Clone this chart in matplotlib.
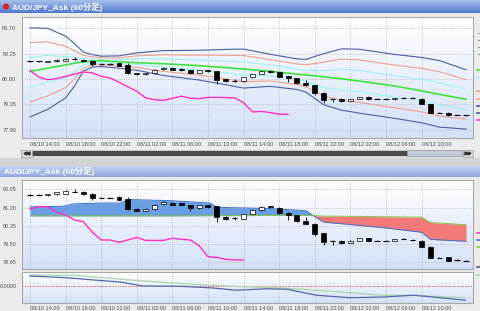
import numpy as np
import matplotlib.pyplot as plt
from matplotlib.patches import Rectangle, Circle
from matplotlib.colors import LinearSegmentedColormap

plt.rcParams['font.family'] = ['Liberation Sans', 'DejaVu Sans', 'Noto Sans CJK JP']

# 60 minute bars, AUD/JPY ask, starting 08/10 14:00
opens = [81.80, 81.80, 81.78, 81.81, 81.85, 81.95, 81.90, 81.85, 81.66, 81.66,
         81.69, 81.58, 81.14, 81.06, 81.12, 81.36, 81.42, 81.39, 81.30, 81.17,
         81.30, 81.25, 80.78, 80.70, 80.67, 80.90, 81.08, 81.25, 81.19, 80.95,
         80.83, 80.55, 80.44, 80.01, 79.66, 79.66, 79.55, 79.66, 79.77, 79.66,
         79.66, 79.64, 79.74, 79.71, 79.66, 79.38, 78.85, 78.88, 78.75, 78.72]
highs = [81.85, 81.85, 81.85, 81.93, 82.00, 82.04, 81.95, 81.88, 81.71, 81.71,
         81.74, 81.69, 81.17, 81.16, 81.35, 81.48, 81.46, 81.42, 81.33, 81.32,
         81.33, 81.28, 80.80, 80.78, 80.92, 81.10, 81.26, 81.29, 81.21, 80.97,
         80.85, 80.75, 80.47, 80.03, 79.70, 79.69, 79.68, 79.79, 79.80, 79.71,
         79.71, 79.74, 79.79, 79.75, 79.69, 79.40, 78.92, 78.90, 78.80, 78.76]
lows = [81.75, 81.76, 81.75, 81.79, 81.83, 81.90, 81.78, 81.54, 81.62, 81.62,
        81.55, 81.10, 81.04, 81.03, 81.10, 81.34, 81.31, 81.28, 81.06, 81.15,
        81.20, 80.51, 80.64, 80.64, 80.65, 80.88, 81.06, 81.17, 80.92, 80.64,
        80.53, 80.42, 79.87, 79.44, 79.47, 79.50, 79.53, 79.64, 79.62, 79.64,
        79.64, 79.62, 79.72, 79.69, 79.35, 78.83, 78.83, 78.70, 78.73, 78.70]
closes = [81.80, 81.80, 81.82, 81.90, 81.96, 81.93, 81.81, 81.65, 81.66, 81.66,
          81.57, 81.12, 81.06, 81.13, 81.33, 81.45, 81.33, 81.30, 81.17, 81.30,
          81.24, 80.75, 80.67, 80.70, 80.90, 81.08, 81.24, 81.22, 80.94, 80.83,
          80.55, 80.44, 79.98, 79.59, 79.66, 79.53, 79.66, 79.77, 79.64, 79.66,
          79.66, 79.72, 79.74, 79.71, 79.38, 78.85, 78.85, 78.72, 78.75, 78.72]

tick_pos = [0, 4, 8, 12, 16, 20, 24, 28, 32, 36, 40, 44]
tick_labels = ["08/10 14:00", "08/10 18:00", "08/10 22:00", "08/11 02:00",
               "08/11 06:00", "08/11 10:00", "08/11 14:00", "08/11 18:00",
               "08/11 22:00", "08/12 02:00", "08/12 06:00", "08/12 10:00"]

# bollinger outer lines (+-3 sigma) and the green average, upper window
bb_t = [0, 2, 4, 5, 6, 7, 8, 10, 12, 15, 19, 22, 24, 27, 30, 31, 33, 35, 37, 41, 44, 46, 49]
bb_up3 = [83.72, 83.69, 83.25, 82.82, 82.33, 82.19, 82.10, 82.12, 82.29, 82.42, 82.44, 82.49,
          82.51, 82.21, 81.95, 81.92, 82.25, 82.52, 82.50, 82.20, 82.03, 81.85, 81.33]
bb_lo3 = [78.63, 79.07, 79.72, 80.40, 81.25, 81.48, 81.51, 81.42, 81.30, 81.00, 80.74, 80.47,
          80.28, 80.38, 80.20, 80.05, 79.33, 79.02, 78.85, 78.55, 78.30, 78.05, 77.94]
ma = [81.23, 81.42, 81.60, 81.70, 81.78, 81.83, 81.84, 81.78, 81.73, 81.67, 81.56, 81.45,
      81.37, 81.24, 81.08, 81.03, 80.93, 80.81, 80.68, 80.40, 80.12, 79.92, 79.64]

# pink line in the upper window
lag_top = [81.29, 80.90, 80.76, 80.82, 80.95, 81.08, 81.20, 81.15, 80.95, 80.86,
           80.62, 80.35, 80.10, 79.72, 79.62, 79.58, 79.70, 79.82, 79.70, 79.68,
           79.75, 79.75, 79.74, 79.72, 79.45, 78.92, 78.95, 78.88, 78.79, 78.78]

# ichimoku cloud, lower window
cloud_t = [0, 3.8, 4.9, 8.2, 10.1, 11.2, 15.7, 20.2, 21, 27, 31, 32, 33, 36, 40, 44, 45, 49]
span_a = [81.23, 81.26, 81.37, 81.41, 81.41, 81.57, 81.52, 81.41, 81.21, 81.15, 81.05, 80.78,
          80.52, 80.41, 80.25, 80.05, 79.72, 79.63]
span_b = [80.81, 80.81, 80.81, 80.81, 80.81, 80.81, 80.81, 80.82, 80.82, 80.83, 80.83, 80.82,
          80.80, 80.79, 80.77, 80.75, 80.50, 80.40]
lag_bot = [81.13, 81.24, 81.23, 80.98, 80.85, 80.62, 80.54, 80.05, 79.69, 79.69,
           79.58, 79.69, 79.81, 79.67, 79.67, 79.67, 79.77, 79.72, 79.69, 79.43,
           78.91, 78.88, 78.79, 78.76, 78.76]

# oscillator window
osc1_t = [0, 4.1, 7.9, 10.1, 12.7, 16.9, 20.6, 23.2, 26.6, 28.9, 32.2, 36, 39.7, 43.1, 45.3, 48.9]
osc1 = [0.20, 0.165, 0.11, 0.08, 0.0, -0.005, -0.04, -0.085, -0.055, -0.065, -0.185, -0.235,
        -0.22, -0.185, -0.22, -0.285]
osc2_t = [0, 4.9, 11.6, 19.1, 22.8, 28.5, 34, 39.7, 43.1, 48.9]
osc2 = [0.215, 0.215, 0.115, 0.025, -0.007, -0.04, -0.107, -0.187, -0.187, -0.235]

W, H = 480, 311
XL = (-0.9, 49.78)


def px(x0, y0, x1, y1):
    return [x0 / W, 1 - y1 / H, (x1 - x0) / W, (y1 - y0) / H]


def vgrad(ax, extent, c_top, c_bot, **kw):
    cm = LinearSegmentedColormap.from_list('g', [c_top, c_bot])
    ax.imshow(np.linspace(0, 1, 60).reshape(-1, 1), cmap=cm, extent=extent,
              aspect='auto', interpolation='bilinear', **kw)


def panel(rect):
    ax = fig.add_axes(px(*rect))
    vgrad(ax, (0, 1, 0, 1), '#ffffff', '#d3e0f6', transform=ax.transAxes, zorder=0)
    for s in ax.spines.values():
        s.set_color('#a8a8a8')
        s.set_linewidth(0.8)
    ax.set_xticks(tick_pos)
    ax.grid(True, axis='x', ls=':', color='#b4b4b4', lw=0.6)
    ax.tick_params(length=0, labelsize=4, colors='#505050')
    return ax


def draw_candles(ax):
    for i, (o, h, l, c) in enumerate(zip(opens, highs, lows, closes)):
        ax.vlines(i, l, h, color='black', lw=0.6, zorder=5)
        lo, hi = min(o, c), max(o, c)
        if hi - lo < 0.02:
            ax.hlines(c, i - 0.3, i + 0.3, color='black', lw=0.8, zorder=6)
        else:
            ax.add_patch(Rectangle((i - 0.28, lo), 0.56, hi - lo, lw=0.5, zorder=6,
                                   facecolor='black' if c < o else 'white', edgecolor='black'))


fig = plt.figure(figsize=(W / 100, H / 100), dpi=100)

# window chrome
bg = fig.add_axes([0, 0, 1, 1])
bg.add_patch(Rectangle((0, 0), W, H, color='#ebebeb', zorder=0))
vgrad(bg, (0, W, 13, 0), '#a9c0ee', '#5178cf', zorder=1)
vgrad(bg, (0, W, 177, 165), '#c6d4f3', '#8fa8e2', zorder=1)
bg.add_patch(Rectangle((0, 157.5), W, 7.5, color='#d2d2d2', zorder=1))
bg.add_patch(Circle((6, 6.5), 2.3, color='#e61e1e', zorder=2))
for y in (7, 171):
    bg.text(12 if y == 7 else 4, y, 'AUD/JPY_Ask (60分足)', color='white', fontsize=6,
            fontweight='bold', va='center', ha='left', zorder=3,
            family=['Liberation Sans', 'Noto Sans CJK JP'])
# scrollbar of the upper window
bg.add_patch(Rectangle((21, 149.5), 11, 7, facecolor='#dcdcdc', edgecolor='#9a9a9a', lw=0.5, zorder=2))
bg.add_patch(Rectangle((33, 151), 374, 4, color='#4a4a4a', zorder=2))
bg.add_patch(Rectangle((407, 150), 55, 6, facecolor='#c3cbd6', edgecolor='#8c96a6', lw=0.5, zorder=2))
bg.add_patch(Rectangle((463, 149.5), 10, 7, facecolor='#dcdcdc', edgecolor='#9a9a9a', lw=0.5, zorder=2))
bg.plot([24.5, 27.5], [153, 153], ls='none', marker='<', ms=2.2, color='#333333', zorder=3)
bg.plot([466, 469], [153, 153], ls='none', marker='>', ms=2.2, color='#333333', zorder=3)
# cut-off legend stubs at the right edge
for y, c in [(70, '#3ee23e'), (78, '#9ef0f6'), (91, '#f0a08c'), (99, '#f0a08c'),
             (106, '#4a5fa0'), (113, '#4a5fa0'), (120, '#ff3cc8'),
             (233, '#ff3cc8'), (240, '#4a78c8'), (247, '#8cc84b'),
             (267, '#4a5fa0'), (275, '#a8d8a8')]:
    bg.plot([477, 480], [y, y], color=c, lw=1.2, zorder=3)
for y in (33, 40, 47, 54):
    bg.plot([477.5, 480], [y, y], color='#9a9a9a', lw=0.8, zorder=3)
bg.set_xlim(0, W)
bg.set_ylim(H, 0)
bg.axis('off')

# upper window: candles with bollinger bands
ax1 = panel((22, 17, 473, 138))
up3, lo3 = np.array(bb_up3), np.array(bb_lo3)
mid = (up3 + lo3) / 2
sd = (up3 - lo3) / 6
for k, col in [(3, '#4a5fa0'), (2, '#f0a08c'), (1, '#9ef0f6')]:
    ax1.plot(bb_t, mid + k * sd, color=col, lw=0.8, zorder=3)
    ax1.plot(bb_t, mid - k * sd, color=col, lw=0.8, zorder=3)
ax1.plot(bb_t, ma, color='#3ee23e', lw=1.2, zorder=3)
ax1.plot(range(len(lag_top)), lag_top, color='#ff2ec4', lw=1.0, zorder=4)
draw_candles(ax1)
ax1.set_yticks([77.90, 79.35, 80.80, 82.25, 83.70])
ax1.set_yticklabels(['%.2f' % v for v in ax1.get_yticks()])
ax1.grid(True, axis='y', ls=':', color='#b4b4b4', lw=0.6)
ax1.set_xticklabels(tick_labels, ha='left')
ax1.tick_params(axis='x', pad=2.6)
ax1.tick_params(axis='y', pad=4.2)
ax1.set_xlim(*XL)
ax1.set_ylim(77.43, 84.34)

# lower window: candles with ichimoku cloud
ax2 = panel((22, 180, 473, 269))
ax2.fill_between(cloud_t, span_a, span_b, where=np.array(span_a) >= np.array(span_b),
                 interpolate=True, color='#6a9ee2', lw=0, zorder=2)
ax2.fill_between(cloud_t, span_a, span_b, where=np.array(span_a) < np.array(span_b),
                 interpolate=True, color='#f47a7a', lw=0, zorder=2)
ax2.plot(cloud_t, span_a, color='#3f70c8', lw=0.7, zorder=3)
ax2.plot(cloud_t, span_b, color='#86c443', lw=0.7, zorder=3)
ax2.plot(range(len(lag_bot)), lag_bot, color='#ff2ec4', lw=1.0, zorder=4)
draw_candles(ax2)
ax2.set_yticks([78.65, 79.50, 80.35, 81.20, 82.05])
ax2.set_yticklabels(['%.2f' % v for v in ax2.get_yticks()])
ax2.grid(True, axis='y', ls=':', color='#b4b4b4', lw=0.6)
ax2.tick_params(axis='x', labelbottom=False)
ax2.tick_params(axis='y', pad=4.2)
ax2.set_xlim(*XL)
ax2.set_ylim(78.34, 82.48)

# oscillator window
ax3 = panel((22, 272, 473, 302.7))
ax3.axhline(0, color='#ff3030', ls=':', lw=0.7, zorder=2)
ax3.plot(osc2_t, osc2, color='#a8d8a8', lw=0.9, zorder=3)
ax3.plot(osc1_t, osc1, color='#5068ac', lw=0.9, zorder=4)
ax3.set_yticks([0])
ax3.set_yticklabels(['0.0000'])
ax3.set_xticklabels(tick_labels, ha='left')
ax3.tick_params(axis='x', pad=2.2)
ax3.tick_params(axis='y', pad=3.5)
ax3.set_xlim(*XL)
ax3.set_ylim(-0.334, 0.28)

fig.savefig('out.png', dpi=100)
